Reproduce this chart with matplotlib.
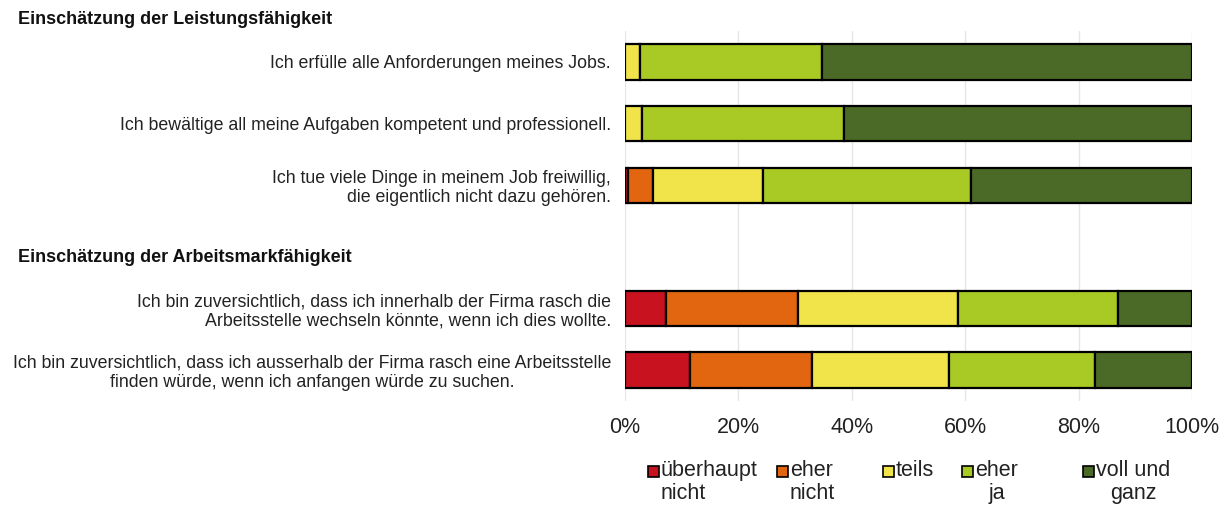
import matplotlib
matplotlib.use("Agg")
import matplotlib.pyplot as plt
from matplotlib.patches import Rectangle
import numpy as np

plt.rcParams['font.family'] = ['Liberation Sans', 'DejaVu Sans']

# ---- data ----
items = [
    "Ich erfülle alle Anforderungen meines Jobs.",
    "Ich bewältige all meine Aufgaben kompetent und professionell.",
    "Ich tue viele Dinge in meinem Job freiwillig,\ndie eigentlich nicht dazu gehören.",
    "",
    "Ich bin zuversichtlich, dass ich innerhalb der Firma rasch die\nArbeitsstelle wechseln könnte, wenn ich dies wollte.",
    "Ich bin zuversichtlich, dass ich ausserhalb der Firma rasch eine Arbeitsstelle\nfinden würde, wenn ich anfangen würde zu suchen.",
]
categories = ["überhaupt\nnicht", "eher\nnicht", "teils", "eher\nja", "voll und\nganz"]
ueberhaupt_nicht = [0.0, 0.0, 0.5, 0.0, 7.2, 11.4]
eher_nicht       = [0.0, 0.0, 4.4, 0.0, 23.3, 21.5]
teils            = [2.6, 3.0, 19.4, 0.0, 28.3, 24.2]
eher_ja          = [32.1, 35.6, 36.8, 0.0, 28.1, 25.8]
voll_und_ganz    = [65.3, 61.4, 38.9, 0.0, 13.1, 17.1]
headings = ["Einschätzung der Leistungsfähigkeit", "Einschätzung der Arbeitsmarkfähigkeit"]
xticks = [0, 20, 40, 60, 80, 100]
xticklabels = ["0%", "20%", "40%", "60%", "80%", "100%"]

colors = ["#C8121F", "#E2650F", "#F1E44A", "#A9C924", "#4C6A27"]
series = [ueberhaupt_nicht, eher_nicht, teils, eher_ja, voll_und_ganz]

W, H = 1226, 509
fig = plt.figure(figsize=(W / 100, H / 100), dpi=100)
fig.patch.set_facecolor("white")

left, right = 625 / W, 1192 / W
top_px, bot_px = 31.2, 400.8
ax = fig.add_axes([left, 1 - bot_px / H, right - left, (bot_px - top_px) / H])

y = np.arange(len(items))
cum = np.zeros(len(items))
for vals, col in zip(series, colors):
    v = np.array(vals)
    mask = v > 0
    ax.barh(y[mask], v[mask], left=cum[mask], height=0.57, color=col,
            edgecolor="black", linewidth=1.6, zorder=3)
    cum += v

ax.set_xlim(0, 100)
ax.set_ylim(len(items) - 0.5, -0.5)
ax.set_xticks(xticks)
ax.set_xticklabels(xticklabels, fontsize=15.5, color="#222222")
ax.set_yticks(y)
ax.set_yticklabels(items, fontsize=12.8, color="#222222", linespacing=1.15)
ax.tick_params(axis='both', length=0)
ax.tick_params(axis='x', pad=12)
ax.tick_params(axis='y', pad=10)
for lab in ax.get_yticklabels():
    if lab.get_text().startswith("Ich bin zuversichtlich, dass ich ausserhalb"):
        lab.set_multialignment('center')
for s in ax.spines.values():
    s.set_visible(False)
ax.grid(axis='x', color="#E6E6E6", linewidth=1.0, zorder=0)
ax.set_axisbelow(True)

# section headings
fig.text(18 / W, 1 - 20 / H, headings[0], fontsize=13.0, fontweight='bold',
         va='center', ha='left', color="#111111")
fig.text(18 / W, 1 - 258 / H, headings[1], fontsize=13.0, fontweight='bold',
         va='center', ha='left', color="#111111")

# legend (manual layout)
leg_x = [648, 777, 883, 962, 1083]
sq = 11
for xpx, col, lab in zip(leg_x, colors, categories):
    fig.add_artist(Rectangle((xpx / W, 1 - (471 + sq / 2) / H), sq / W, sq / H,
                             transform=fig.transFigure, facecolor=col,
                             edgecolor="black", linewidth=1.2))
    malign = 'center' if lab in ("eher\nja", "voll und\nganz") else 'left'
    fig.text((xpx + sq + 2) / W, 1 - 460 / H, lab, fontsize=15.5, va='top',
             ha='left', multialignment=malign, linespacing=1.12, color="#222222")

fig.savefig("out.png", dpi=100)
